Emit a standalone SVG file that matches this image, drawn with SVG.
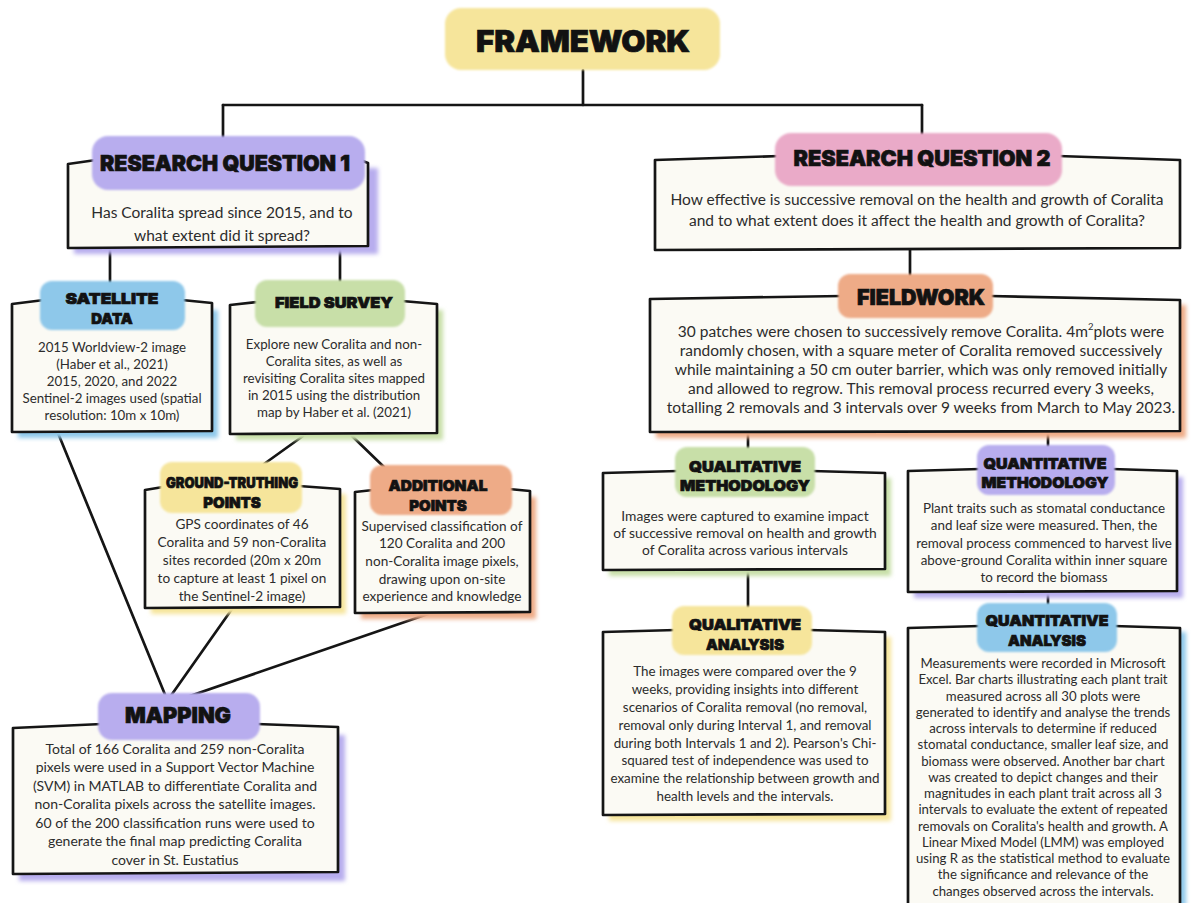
<svg xmlns="http://www.w3.org/2000/svg" width="1192" height="903" viewBox="0 0 1192 903">
  <defs>
    <filter id="soft" x="-10%" y="-10%" width="120%" height="120%">
      <feGaussianBlur stdDeviation="1.2"/>
    </filter>
    <filter id="haze" x="-10%" y="-10%" width="120%" height="120%">
      <feGaussianBlur stdDeviation="2"/>
    </filter>
    <style>
      .box { fill: #fbfaf4; stroke: #151515; stroke-width: 2.7; stroke-linejoin: round; stroke-linecap: round; }
      .shadow { filter: url(#haze); }
      .blob { filter: url(#soft); }
      .hd { font-family: Inter, Roboto, "Liberation Sans", sans-serif; font-weight: 900; fill: #121212; stroke: #121212; stroke-width: 0.7; text-anchor: middle; dominant-baseline: central; }
      .tx { font-family: Lato, "Noto Sans", "Liberation Sans", sans-serif; fill: #2c2c2c; text-anchor: middle; dominant-baseline: central; font-size: 13.3px; }
      .lg { font-size: 15.5px; }
      .wire { fill: none; stroke: #151515; stroke-width: 2.7; stroke-linecap: round; }
      .yellow { fill: #f6e59b; }
      .purple { fill: #b8adee; }
      .pink { fill: #eaaac8; }
      .blue { fill: #8ec8ea; }
      .green { fill: #c8dfa8; }
      .orange { fill: #eeab87; }
    </style>
  </defs>

  <rect width="1192" height="903" fill="#ffffff"/>

  <!-- connectors -->
  <g id="connectors">
    <path class="wire" d="M583,70 L583,105"/>
    <path class="wire" d="M223,105 L922,105"/>
    <path class="wire" d="M223,105 L223,138"/>
    <path class="wire" d="M922,105 L922,136"/>
    <path class="wire" d="M110,248 L110,283"/>
    <path class="wire" d="M340,247 L340,282"/>
    <path class="wire" d="M303,436 L264,464"/>
    <path class="wire" d="M352,436 L384,467"/>
    <path class="wire" d="M58,433 L166,697"/>
    <path class="wire" d="M232,609 L170,697"/>
    <path class="wire" d="M428,614 L184,698"/>
    <path class="wire" d="M910,250 L910,276"/>
    <path class="wire" d="M748,432 L748,449"/>
    <path class="wire" d="M1048,432 L1048,447"/>
    <path class="wire" d="M748,570 L748,608"/>
    <path class="wire" d="M1048,592 L1048,605"/>
  </g>

  <!-- title -->
  <g id="framework">
    <rect class="blob yellow" x="445" y="8" width="275" height="62" rx="16"/>
    <text class="hd" x="583" y="41" font-size="30" textLength="214" lengthAdjust="spacingAndGlyphs">FRAMEWORK</text>
  </g>

  <!-- research question 1 -->
  <g id="rq1">
    <rect class="shadow purple" x="74" y="168" width="304" height="86"/>
    <path class="box" d="M96,160 L68,164 L68,248 L368,246 L368,163 L360,160"/>
    <rect class="blob purple" x="92" y="136" width="273" height="54" rx="16"/>
    <text class="hd" x="225" y="163" font-size="22" textLength="250" lengthAdjust="spacingAndGlyphs">RESEARCH QUESTION 1</text>
    <text class="tx lg" x="222" y="212">Has Coralita spread since 2015, and to</text>
    <text class="tx lg" x="222" y="235">what extent did it spread?</text>
  </g>

  <!-- research question 2 -->
  <g id="rq2">
    <path class="box" d="M780,156 L655,160 L655,250 L1180,248 L1180,160 L1058,156"/>
    <rect class="blob pink" x="775" y="133" width="287" height="53" rx="16"/>
    <text class="hd" x="922" y="158" font-size="22" textLength="257" lengthAdjust="spacingAndGlyphs">RESEARCH QUESTION 2</text>
    <text class="tx lg" x="917" y="199">How effective is successive removal on the health and growth of Coralita</text>
    <text class="tx lg" x="917" y="220">and to what extent does it affect the health and growth of Coralita?</text>
  </g>

  <!-- satellite data -->
  <g id="satellite">
    <rect class="shadow blue" x="18" y="310" width="200" height="128"/>
    <path class="box" d="M44,300 L12,304 L12,432 L212,431 L212,303 L182,300"/>
    <rect class="blob blue" x="40" y="281" width="145" height="49" rx="12"/>
    <text class="hd" x="112" y="298" font-size="15" textLength="93" lengthAdjust="spacingAndGlyphs">SATELLITE</text>
    <text class="hd" x="112" y="318" font-size="15">DATA</text>
    <text class="tx" x="112" y="347">2015 Worldview-2 image</text>
    <text class="tx" x="112" y="364">(Haber et al., 2021)</text>
    <text class="tx" x="112" y="381">2015, 2020, and 2022</text>
    <text class="tx" x="112" y="398">Sentinel-2 images used (spatial</text>
    <text class="tx" x="112" y="415">resolution: 10m x 10m)</text>
  </g>

  <!-- field survey -->
  <g id="field-survey">
    <rect class="shadow green" x="236" y="310" width="207" height="130"/>
    <path class="box" d="M258,302 L230,305 L230,434 L437,433 L437,304 L402,301"/>
    <rect class="blob green" x="255" y="280" width="150" height="47" rx="12"/>
    <text class="hd" x="334" y="302" font-size="15" textLength="118" lengthAdjust="spacingAndGlyphs">FIELD SURVEY</text>
    <text class="tx" x="334" y="344">Explore new Coralita and non-</text>
    <text class="tx" x="334" y="361">Coralita sites, as well as</text>
    <text class="tx" x="334" y="378">revisiting Coralita sites mapped</text>
    <text class="tx" x="334" y="395">in 2015 using the distribution</text>
    <text class="tx" x="334" y="412">map by Haber et al. (2021)</text>
  </g>

  <!-- ground-truthing points -->
  <g id="ground-truthing">
    <rect class="shadow yellow" x="151" y="494" width="195" height="120"/>
    <path class="box" d="M163,487 L145,490 L145,608 L340,607 L340,489 L299,486"/>
    <rect class="blob yellow" x="160" y="462" width="142" height="51" rx="12"/>
    <text class="hd" x="232" y="482" font-size="15" textLength="132" lengthAdjust="spacingAndGlyphs">GROUND-TRUTHING</text>
    <text class="hd" x="232" y="502" font-size="15">POINTS</text>
    <g style="font-size:13.6px">
      <text class="tx" x="242" y="524" style="font-size:inherit">GPS coordinates of 46</text>
      <text class="tx" x="242" y="542" style="font-size:inherit">Coralita and 59 non-Coralita</text>
      <text class="tx" x="242" y="560" style="font-size:inherit">sites recorded (20m x 20m</text>
      <text class="tx" x="242" y="578" style="font-size:inherit">to capture at least 1 pixel on</text>
      <text class="tx" x="242" y="596" style="font-size:inherit">the Sentinel-2 image)</text>
    </g>
  </g>

  <!-- additional points -->
  <g id="additional-points">
    <rect class="shadow orange" x="361" y="497" width="175" height="122"/>
    <path class="box" d="M373,490 L355,492 L355,613 L530,612 L530,491 L509,489"/>
    <rect class="blob orange" x="370" y="465" width="142" height="50" rx="12"/>
    <text class="hd" x="438" y="485" font-size="15" textLength="99" lengthAdjust="spacingAndGlyphs">ADDITIONAL</text>
    <text class="hd" x="438" y="505" font-size="15">POINTS</text>
    <g style="font-size:13.6px">
      <text class="tx" x="442" y="526" style="font-size:inherit">Supervised classification of</text>
      <text class="tx" x="442" y="543" style="font-size:inherit">120 Coralita and 200</text>
      <text class="tx" x="442" y="561" style="font-size:inherit">non-Coralita image pixels,</text>
      <text class="tx" x="442" y="579" style="font-size:inherit">drawing upon on-site</text>
      <text class="tx" x="442" y="596" style="font-size:inherit">experience and knowledge</text>
    </g>
  </g>

  <!-- mapping -->
  <g id="mapping">
    <rect class="shadow purple" x="19" y="735" width="326" height="146"/>
    <path class="box" d="M102,724 L13,728 L13,874 L338,872 L338,727 L257,724"/>
    <rect class="blob purple" x="98" y="693" width="162" height="47" rx="14"/>
    <text class="hd" x="178" y="715" font-size="22" textLength="106" lengthAdjust="spacingAndGlyphs">MAPPING</text>
    <g style="font-size:14px">
      <text class="tx" x="175" y="748" style="font-size:inherit">Total of 166 Coralita and 259 non-Coralita</text>
      <text class="tx" x="175" y="766.5" style="font-size:inherit">pixels were used in a Support Vector Machine</text>
      <text class="tx" x="175" y="785" style="font-size:inherit">(SVM) in MATLAB to differentiate Coralita and</text>
      <text class="tx" x="175" y="803.5" style="font-size:inherit">non-Coralita pixels across the satellite images.</text>
      <text class="tx" x="175" y="822" style="font-size:inherit">60 of the 200 classification runs were used to</text>
      <text class="tx" x="175" y="840.5" style="font-size:inherit">generate the final map predicting Coralita</text>
      <text class="tx" x="175" y="859" style="font-size:inherit">cover in St. Eustatius</text>
    </g>
  </g>

  <!-- fieldwork -->
  <g id="fieldwork">
    <rect class="shadow orange" x="656" y="305" width="530" height="133"/>
    <path class="box" d="M842,296 L650,299 L650,432 L1180,431 L1180,300 L990,296"/>
    <rect class="blob orange" x="838" y="274" width="155" height="44" rx="12"/>
    <text class="hd" x="921" y="297" font-size="22" textLength="128" lengthAdjust="spacingAndGlyphs">FIELDWORK</text>
    <text class="tx lg" x="921" y="331">30 patches were chosen to successively remove Coralita. 4m<tspan font-size="9.5" dy="-5">2</tspan><tspan dy="5">plots were</tspan></text>
    <text class="tx lg" x="921" y="350">randomly chosen, with a square meter of Coralita removed successively</text>
    <text class="tx lg" x="921" y="369">while maintaining a 50 cm outer barrier, which was only removed initially</text>
    <text class="tx lg" x="921" y="388">and allowed to regrow. This removal process recurred every 3 weeks,</text>
    <text class="tx lg" x="921" y="407">totalling 2 removals and 3 intervals over 9 weeks from March to May 2023.</text>
  </g>

  <!-- qualitative methodology -->
  <g id="qualitative-methodology">
    <rect class="shadow green" x="609" y="478" width="282" height="98"/>
    <path class="box" d="M678,471 L603,473 L603,570 L885,569 L885,473 L812,471"/>
    <rect class="blob green" x="675" y="447" width="140" height="50" rx="12"/>
    <text class="hd" x="745" y="466" font-size="15" textLength="112" lengthAdjust="spacingAndGlyphs">QUALITATIVE</text>
    <text class="hd" x="745" y="485" font-size="15" textLength="130" lengthAdjust="spacingAndGlyphs">METHODOLOGY</text>
    <g style="font-size:13.8px">
      <text class="tx" x="745" y="515" style="font-size:inherit">Images were captured to examine impact</text>
      <text class="tx" x="745" y="532" style="font-size:inherit">of successive removal on health and growth</text>
      <text class="tx" x="745" y="549" style="font-size:inherit">of Coralita across various intervals</text>
    </g>
  </g>

  <!-- quantitative methodology -->
  <g id="quantitative-methodology">
    <rect class="shadow purple" x="914" y="477" width="269" height="121"/>
    <path class="box" d="M980,469 L908,471 L908,592 L1177,591 L1177,471 L1112,469"/>
    <rect class="blob purple" x="977" y="445" width="138" height="50" rx="12"/>
    <text class="hd" x="1045" y="463" font-size="15" textLength="123" lengthAdjust="spacingAndGlyphs">QUANTITATIVE</text>
    <text class="hd" x="1045" y="482" font-size="15" textLength="127" lengthAdjust="spacingAndGlyphs">METHODOLOGY</text>
    <g style="font-size:13.4px">
      <text class="tx" x="1044" y="508" style="font-size:inherit">Plant traits such as stomatal conductance</text>
      <text class="tx" x="1044" y="525" style="font-size:inherit">and leaf size were measured. Then, the</text>
      <text class="tx" x="1044" y="543" style="font-size:inherit">removal process commenced to harvest live</text>
      <text class="tx" x="1044" y="560" style="font-size:inherit">above-ground Coralita within inner square</text>
      <text class="tx" x="1044" y="577" style="font-size:inherit">to record the biomass</text>
    </g>
  </g>

  <!-- qualitative analysis -->
  <g id="qualitative-analysis">
    <rect class="shadow yellow" x="609" y="637" width="282" height="184"/>
    <path class="box" d="M676,630 L603,632 L603,815 L885,814 L885,632 L809,630"/>
    <rect class="blob yellow" x="672" y="606" width="140" height="49" rx="12"/>
    <text class="hd" x="745" y="624" font-size="15" textLength="112" lengthAdjust="spacingAndGlyphs">QUALITATIVE</text>
    <text class="hd" x="745" y="644" font-size="15">ANALYSIS</text>
    <g style="font-size:13.4px">
      <text class="tx" x="745" y="671" style="font-size:inherit">The images were compared over the 9</text>
      <text class="tx" x="745" y="689" style="font-size:inherit">weeks, providing insights into different</text>
      <text class="tx" x="745" y="707" style="font-size:inherit">scenarios of Coralita removal (no removal,</text>
      <text class="tx" x="745" y="725" style="font-size:inherit">removal only during Interval 1, and removal</text>
      <text class="tx" x="745" y="743" style="font-size:inherit">during both Intervals 1 and 2). Pearson's Chi-</text>
      <text class="tx" x="745" y="760" style="font-size:inherit">squared test of independence was used to</text>
      <text class="tx" x="745" y="778" style="font-size:inherit">examine the relationship between growth and</text>
      <text class="tx" x="745" y="796" style="font-size:inherit">health levels and the intervals.</text>
    </g>
  </g>

  <!-- quantitative analysis -->
  <g id="quantitative-analysis">
    <rect class="shadow blue" x="914" y="632" width="272" height="276"/>
    <path class="box" d="M980,626 L908,628 L908,906 L1180,906 L1180,628 L1114,626"/>
    <rect class="blob blue" x="977" y="603" width="140" height="49" rx="12"/>
    <text class="hd" x="1047" y="620" font-size="15" textLength="123" lengthAdjust="spacingAndGlyphs">QUANTITATIVE</text>
    <text class="hd" x="1047" y="640" font-size="15">ANALYSIS</text>
    <g style="font-size:13.2px">
      <text class="tx" x="1043" y="663" style="font-size:inherit">Measurements were recorded in Microsoft</text>
      <text class="tx" x="1043" y="679.25" style="font-size:inherit">Excel. Bar charts illustrating each plant trait</text>
      <text class="tx" x="1043" y="695.5" style="font-size:inherit">measured across all 30 plots were</text>
      <text class="tx" x="1043" y="711.75" style="font-size:inherit">generated to identify and analyse the trends</text>
      <text class="tx" x="1043" y="728" style="font-size:inherit">across intervals to determine if reduced</text>
      <text class="tx" x="1043" y="744.25" style="font-size:inherit">stomatal conductance, smaller leaf size, and</text>
      <text class="tx" x="1043" y="760.5" style="font-size:inherit">biomass were observed. Another bar chart</text>
      <text class="tx" x="1043" y="776.75" style="font-size:inherit">was created to depict changes and their</text>
      <text class="tx" x="1043" y="793" style="font-size:inherit">magnitudes in each plant trait across all 3</text>
      <text class="tx" x="1043" y="809.25" style="font-size:inherit">intervals to evaluate the extent of repeated</text>
      <text class="tx" x="1043" y="825.5" style="font-size:inherit">removals on Coralita's health and growth. A</text>
      <text class="tx" x="1043" y="841.75" style="font-size:inherit">Linear Mixed Model (LMM) was employed</text>
      <text class="tx" x="1043" y="858" style="font-size:inherit">using R as the statistical method to evaluate</text>
      <text class="tx" x="1043" y="874.25" style="font-size:inherit">the significance and relevance of the</text>
      <text class="tx" x="1043" y="890.5" style="font-size:inherit">changes observed across the intervals.</text>
    </g>
  </g>
</svg>
